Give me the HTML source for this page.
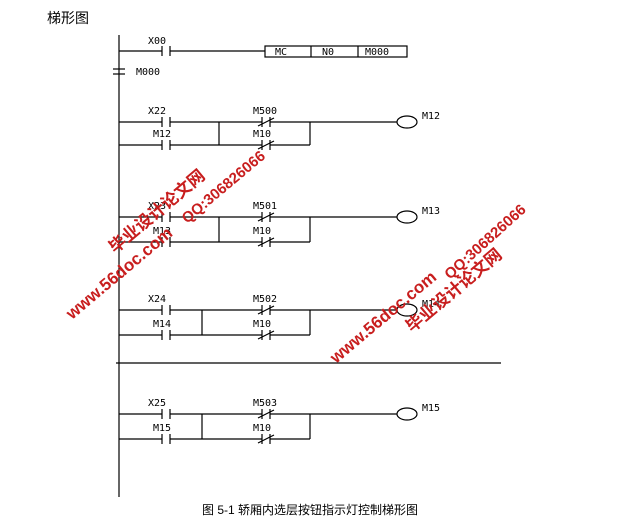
<!DOCTYPE html>
<html><head><meta charset="utf-8"><style>
html,body{margin:0;padding:0;background:#fff;}
svg{display:block;}
.t{font-family:"DejaVu Sans Mono","Liberation Mono",monospace;font-size:10px;fill:#000;}
.w{font-family:"Liberation Sans","Noto Sans CJK SC",sans-serif;font-weight:bold;fill:#c81e1e;}
</style></head><body>
<svg width="618" height="532" viewBox="0 0 618 532" xmlns="http://www.w3.org/2000/svg">
<defs>
<g id="no"><line x1="-4" y1="-5" x2="-4" y2="5"/><line x1="4" y1="-5" x2="4" y2="5"/></g>
<g id="nc"><line x1="-4" y1="-5" x2="-4" y2="5"/><line x1="4" y1="-5" x2="4" y2="5"/><line x1="-8" y1="4" x2="8" y2="-4"/></g>
</defs>
<g stroke="#000" stroke-width="1.2" fill="none">
<line x1="119" y1="35" x2="119" y2="497"/>
<line x1="119" y1="51" x2="162" y2="51"/><use href="#no" x="166" y="51"/>
<line x1="170" y1="51" x2="265" y2="51"/>
<rect x="265" y="46" width="142" height="11"/><line x1="311" y1="46" x2="311" y2="57"/><line x1="358" y1="46" x2="358" y2="57"/>
<line x1="113" y1="69" x2="125" y2="69"/><line x1="113" y1="74" x2="125" y2="74"/>
<line x1="116" y1="363" x2="501" y2="363"/>

<!-- rung 1 y=122/145 b=219 -->
<line x1="119" y1="122" x2="162" y2="122"/><use href="#no" x="166" y="122"/><line x1="170" y1="122" x2="262" y2="122"/>
<line x1="119" y1="145" x2="162" y2="145"/><use href="#no" x="166" y="145"/><line x1="170" y1="145" x2="262" y2="145"/>
<line x1="219" y1="122" x2="219" y2="145"/>
<use href="#nc" x="266" y="122"/><use href="#nc" x="266" y="145"/>
<line x1="270" y1="122" x2="397" y2="122"/><line x1="270" y1="145" x2="310" y2="145"/><line x1="310" y1="122" x2="310" y2="145"/>
<ellipse cx="407" cy="122" rx="10" ry="6"/>

<!-- rung 2 y=217/242 b=219 -->
<line x1="119" y1="217" x2="162" y2="217"/><use href="#no" x="166" y="217"/><line x1="170" y1="217" x2="262" y2="217"/>
<line x1="119" y1="242" x2="162" y2="242"/><use href="#no" x="166" y="242"/><line x1="170" y1="242" x2="262" y2="242"/>
<line x1="219" y1="217" x2="219" y2="242"/>
<use href="#nc" x="266" y="217"/><use href="#nc" x="266" y="242"/>
<line x1="270" y1="217" x2="397" y2="217"/><line x1="270" y1="242" x2="310" y2="242"/><line x1="310" y1="217" x2="310" y2="242"/>
<ellipse cx="407" cy="217" rx="10" ry="6"/>

<!-- rung 3 y=310/335 b=202 -->
<line x1="119" y1="310" x2="162" y2="310"/><use href="#no" x="166" y="310"/><line x1="170" y1="310" x2="262" y2="310"/>
<line x1="119" y1="335" x2="162" y2="335"/><use href="#no" x="166" y="335"/><line x1="170" y1="335" x2="262" y2="335"/>
<line x1="202" y1="310" x2="202" y2="335"/>
<use href="#nc" x="266" y="310"/><use href="#nc" x="266" y="335"/>
<line x1="270" y1="310" x2="397" y2="310"/><line x1="270" y1="335" x2="310" y2="335"/><line x1="310" y1="310" x2="310" y2="335"/>
<ellipse cx="407" cy="310" rx="10" ry="6"/>

<!-- rung 4 y=414/439 b=202 -->
<line x1="119" y1="414" x2="162" y2="414"/><use href="#no" x="166" y="414"/><line x1="170" y1="414" x2="262" y2="414"/>
<line x1="119" y1="439" x2="162" y2="439"/><use href="#no" x="166" y="439"/><line x1="170" y1="439" x2="262" y2="439"/>
<line x1="202" y1="414" x2="202" y2="439"/>
<use href="#nc" x="266" y="414"/><use href="#nc" x="266" y="439"/>
<line x1="270" y1="414" x2="397" y2="414"/><line x1="270" y1="439" x2="310" y2="439"/><line x1="310" y1="414" x2="310" y2="439"/>
<ellipse cx="407" cy="414" rx="10" ry="6"/>
</g>

<text class="t" x="148" y="44">X00</text>
<text class="t" x="275" y="55">MC</text><text class="t" x="322" y="55">N0</text><text class="t" x="365" y="55">M000</text>
<text class="t" x="136" y="75">M000</text>

<text class="t" x="148" y="114">X22</text><text class="t" x="153" y="137">M12</text><text class="t" x="253" y="114">M500</text><text class="t" x="253" y="137">M10</text><text class="t" x="422" y="119">M12</text>
<text class="t" x="148" y="209">X23</text><text class="t" x="153" y="234">M13</text><text class="t" x="253" y="209">M501</text><text class="t" x="253" y="234">M10</text><text class="t" x="422" y="214">M13</text>
<text class="t" x="148" y="302">X24</text><text class="t" x="153" y="327">M14</text><text class="t" x="253" y="302">M502</text><text class="t" x="253" y="327">M10</text><text class="t" x="422" y="307">M14</text>
<text class="t" x="148" y="406">X25</text><text class="t" x="153" y="431">M15</text><text class="t" x="253" y="406">M503</text><text class="t" x="253" y="431">M10</text><text class="t" x="422" y="411">M15</text>

<text x="47" y="23" font-family="Liberation Sans,'Noto Sans CJK SC',sans-serif" font-size="14">梯形图</text>
<text x="310" y="514" text-anchor="middle" font-family="Liberation Sans,'Noto Sans CJK SC',sans-serif" font-size="12">图 5-1  轿厢内选层按钮指示灯控制梯形图</text>

<text class="w" font-size="17" transform="translate(72,320) rotate(-40)">www.56doc.com</text>
<text class="w" font-size="17" transform="translate(115,254) rotate(-40)">毕业设计论文网</text>
<text class="w" font-size="15" transform="translate(187,224) rotate(-40)">QQ:306826066</text>
<text class="w" font-size="17" transform="translate(336,364) rotate(-40)">www.56doc.com</text>
<text class="w" font-size="17" transform="translate(412,333) rotate(-40)">毕业设计论文网</text>
<text class="w" font-size="15" transform="translate(450,280) rotate(-42)">QQ:306826066</text>
</svg>
</body></html>
